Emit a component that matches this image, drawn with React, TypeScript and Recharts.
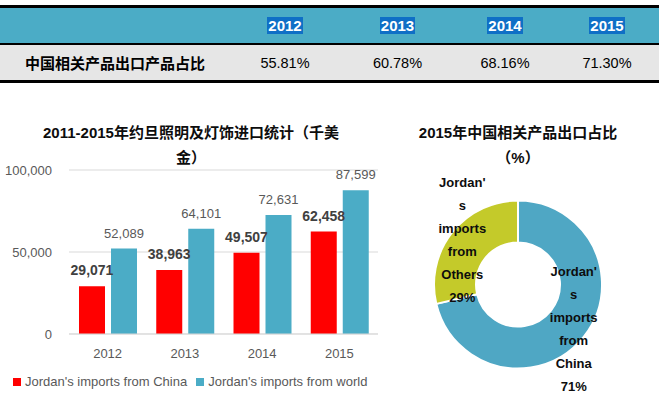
import React from 'react';
import { BarChart, Bar, XAxis, YAxis, CartesianGrid, LabelList, Legend, PieChart, Pie, Cell } from 'recharts';

const years = ['2012', '2013', '2014', '2015'];
const shareLabel = '中国相关产品出口产品占比';
const chinaShare = [55.81, 60.78, 68.16, 71.3];
const importsFromChina = [29071, 38963, 49507, 62458];
const importsFromWorld = [52089, 64101, 72631, 87599];
const seriesNames = ["Jordan's imports from China", "Jordan's imports from world"];
const pieNames = ["Jordan's imports from China", "Jordan's imports from Others"];
const yTicks = [0, 50000, 100000];
const barTitle = ['2011-2015年约旦照明及灯饰进口统计（千美', '金）'];
const pieTitle = ['2015年中国相关产品出口占比', '（%）'];

const RED = '#FF0000';
const TEAL = '#4BACC6';
const PIE_TEAL = '#4FA7C4';
const OLIVE = '#C4CA2A';
const FONT = '"Liberation Sans", Arial, "Noto Sans CJK SC", sans-serif';

const barData = years.map((y, i) => ({ year: y, china: importsFromChina[i], world: importsFromWorld[i] }));
const lastShare = chinaShare[chinaShare.length - 1];
const pieData = [
  { name: pieNames[0], value: lastShare },
  { name: pieNames[1], value: 100 - lastShare },
];
const pieColors = [PIE_TEAL, OLIVE];

const fmt = (v: number) => v.toLocaleString('en-US');

function wrapName(name: string): string[] {
  const out: string[] = [];
  name.split(' ').forEach((w) => {
    if (w.length > 7) {
      out.push(w.slice(0, 7));
      out.push(w.slice(7));
    } else out.push(w);
  });
  return out;
}

const RADIAN = Math.PI / 180;
const PieLabel = (props: any) => {
  const { cx, cy, midAngle, innerRadius, outerRadius, name, percent } = props;
  const r = (innerRadius + outerRadius) / 2 + 8;
  const x = cx + r * Math.cos(-midAngle * RADIAN);
  const y = cy + r * Math.sin(-midAngle * RADIAN);
  const lines = [...wrapName(name), `${Math.round(percent * 100)}%`];
  const lh = 23;
  const startY = y - ((lines.length - 1) * lh) / 2;
  return (
    <text x={x} y={startY} textAnchor="middle" fill="#0d0d0d" fontSize={13} fontWeight="bold" fontFamily={FONT}>
      {lines.map((l, i) => (
        <tspan key={i} x={x} y={startY + i * lh} dominantBaseline="central">
          {l}
        </tspan>
      ))}
    </text>
  );
};

const LegendContent = () => (
  <div style={{ display: 'flex', alignItems: 'center', fontFamily: FONT, fontSize: 13, color: '#595959', whiteSpace: 'nowrap' }}>
    {[RED, TEAL].map((c, i) => (
      <div key={i} style={{ display: 'flex', alignItems: 'center', marginRight: i === 0 ? 9 : 0 }}>
        <span style={{ display: 'inline-block', width: 8, height: 8, background: c, marginRight: 4 }} />
        <span>{seriesNames[i]}</span>
      </div>
    ))}
  </div>
);

const colLefts = [0, 230, 340, 455, 555];
const colWidths = [230, 110, 115, 100, 104];

export default function App() {
  return (
    <div style={{ position: 'absolute', left: 0, top: 0, width: 662, height: 396, background: '#fff', overflow: 'hidden', fontFamily: FONT }}>
      {/* Table */}
      <div style={{ position: 'absolute', left: 0, top: 5, width: 659, height: 3, background: '#000' }} />
      <div style={{ position: 'absolute', left: 0, top: 8, width: 659, height: 35, background: TEAL }}>
        {years.map((y, i) => (
          <div key={y} style={{ position: 'absolute', left: colLefts[i + 1], width: colWidths[i + 1], top: 0, height: 35, display: 'flex', alignItems: 'center', justifyContent: 'center' }}>
            <span style={{ background: '#0F6FC6', color: '#fff', fontWeight: 'bold', fontSize: 15, padding: '0 1px' }}>{y}</span>
          </div>
        ))}
      </div>
      <div style={{ position: 'absolute', left: 0, top: 43, width: 659, height: 2, background: '#000' }} />
      <div style={{ position: 'absolute', left: 0, top: 45, width: 659, height: 35, background: '#E6E6E6' }}>
        <div style={{ position: 'absolute', left: 25, top: 0, height: 35, display: 'flex', alignItems: 'center', fontWeight: 'bold', fontSize: 15, color: '#000', fontFamily: '"Noto Sans CJK SC", sans-serif' }}>
          {shareLabel}
        </div>
        {chinaShare.map((v, i) => (
          <div key={i} style={{ position: 'absolute', left: colLefts[i + 1], width: colWidths[i + 1], top: 0, height: 35, display: 'flex', alignItems: 'center', justifyContent: 'center', fontSize: 14.5, color: '#000' }}>
            {v.toFixed(2)}%
          </div>
        ))}
      </div>
      <div style={{ position: 'absolute', left: 0, top: 80, width: 659, height: 3, background: '#000' }} />

      {/* Bar chart title */}
      {barTitle.map((t, i) => (
        <div key={i} style={{ position: 'absolute', left: 0, width: 382, top: 122 + i * 25, height: 22, textAlign: 'center', fontWeight: 'bold', fontSize: 15, color: '#0d0d0d', lineHeight: '22px' }}>
          {t}
        </div>
      ))}

      {/* Bar chart */}
      <div style={{ position: 'absolute', left: 0, top: 160 }}>
        <BarChart width={390} height={236} data={barData} margin={{ top: 10, right: 12, left: 0, bottom: 32 }} barSize={26} barGap={6}>
          <CartesianGrid vertical={false} stroke="#D9D9D9" />
          <XAxis dataKey="year" axisLine={{ stroke: '#D9D9D9' }} tickLine={false} tickSize={0} tickMargin={15} height={30} tick={{ fill: '#595959', fontSize: 13, fontFamily: FONT }} />
          <YAxis domain={[0, 100000]} ticks={yTicks} tickFormatter={fmt} axisLine={false} tickLine={false} tickSize={0} tickMargin={17} width={69} tick={{ fill: '#595959', fontSize: 13, fontFamily: FONT }} />
          <Legend layout="horizontal" verticalAlign="middle" align="center" content={<LegendContent />} wrapperStyle={{ position: 'absolute', top: 214, left: 13, width: 380, height: 16 }} />
          <Bar dataKey="china" name={seriesNames[0]} fill={RED} isAnimationActive={false}>
            <LabelList dataKey="china" position="top" offset={11} formatter={(v: any) => fmt(Number(v))} style={{ fill: '#404040', fontSize: 14, fontWeight: 'bold', fontFamily: FONT }} />
          </Bar>
          <Bar dataKey="world" name={seriesNames[1]} fill={TEAL} isAnimationActive={false}>
            <LabelList dataKey="world" position="top" offset={11} formatter={(v: any) => fmt(Number(v))} style={{ fill: '#595959', fontSize: 13, fontFamily: FONT }} />
          </Bar>
        </BarChart>
      </div>

      {/* Pie title */}
      {pieTitle.map((t, i) => (
        <div key={i} style={{ position: 'absolute', left: 400, width: 236, top: 122 + i * 25, height: 22, textAlign: 'center', fontWeight: 'bold', fontSize: 15, color: '#0d0d0d', lineHeight: '22px' }}>
          {t}
        </div>
      ))}

      {/* Pie chart */}
      <div style={{ position: 'absolute', left: 400, top: 160 }}>
        <PieChart width={262} height={236} margin={{ top: 0, right: 0, bottom: 0, left: 0 }}>
          <Pie
            data={pieData}
            dataKey="value"
            nameKey="name"
            cx={118}
            cy={124.5}
            innerRadius={42}
            outerRadius={84}
            startAngle={90}
            endAngle={-270}
            stroke="#fff"
            strokeWidth={2}
            label={PieLabel}
            labelLine={false}
            isAnimationActive={false}
          >
            {pieData.map((d, i) => (
              <Cell key={d.name} fill={pieColors[i]} />
            ))}
          </Pie>
        </PieChart>
      </div>
    </div>
  );
}
